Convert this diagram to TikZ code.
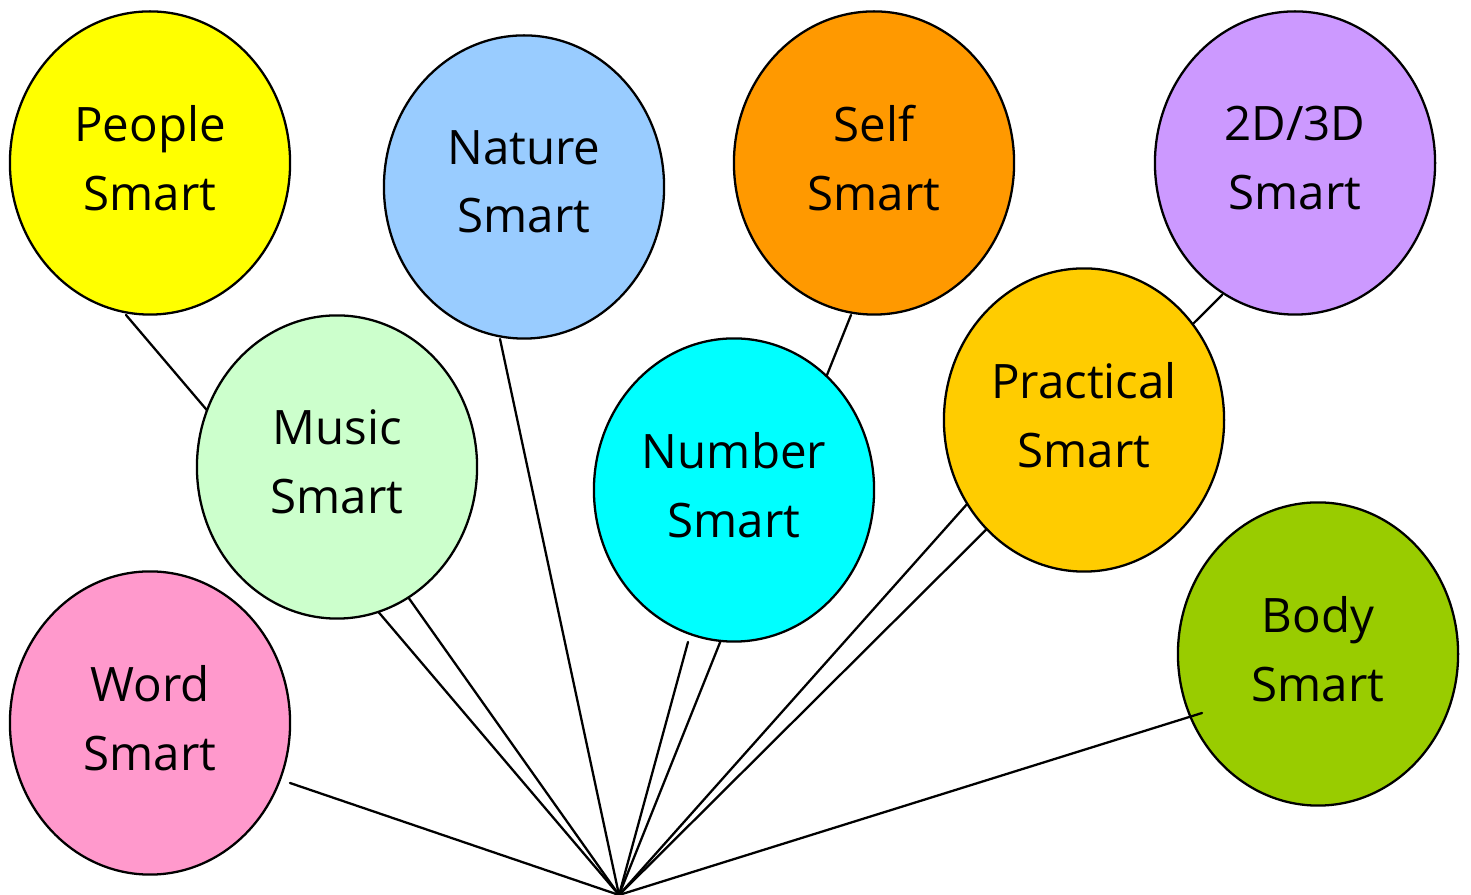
\documentclass[tikz,border=0pt]{standalone}
\usepackage{fontspec}
\setmainfont{Open Sans}
\usetikzlibrary{shapes.geometric, positioning}

\definecolor{sunny}{HTML}{FFFF00}
\definecolor{sky}{HTML}{99CCFF}
\definecolor{tangerine}{HTML}{FF9900}
\definecolor{lilac}{HTML}{CC99FF}
\definecolor{mint}{HTML}{CCFFCC}
\definecolor{aqua}{HTML}{00FFFF}
\definecolor{amber}{HTML}{FFCC00}
\definecolor{rose}{HTML}{FF99CC}
\definecolor{lime}{HTML}{99CC00}

\begin{document}
\begin{tikzpicture}[x=0.01cm, y=0.01cm]
	\tikzset{
	balloon/.style={ellipse, draw, line width=0.65pt, minimum width=2.8cm, minimum height=3.03cm, inner sep=0pt, outer sep=0pt, align=center, text depth=3pt, font=\fontsize{13.5}{19.5}\selectfont}, % one balloon, text inside
	string/.style={line width=0.65pt, line cap=round} % the string of a balloon
	}
	\useasboundingbox (0,0) rectangle (1471,895);

	% where each string is tied, and the hand that holds them all
	\coordinate (hand) at (619,0);
	\coordinate (people tie) at (126,580);
	\coordinate (nature tie) at (500,556);
	\coordinate (self tie) at (851,580);
	\coordinate (shape tie) at (1222,600);
	\coordinate (music tie) at (408,298);
	\coordinate (number tie) at (688,253);
	\coordinate (practical tie) at (968,392);
	\coordinate (word tie) at (290,112);
	\coordinate (body tie) at (1202,182);

	% strings go first, so the balloons hide them
	\foreach \b in {people, nature, self, shape, music, number, practical, word}
		\draw[string] (\b\space tie) -- (hand);

	\node[balloon, fill=sunny] (people) at (150,732) {People\\Smart};
	\node[balloon, fill=sky] (nature) at (524,708) {Nature\\Smart};
	\node[balloon, fill=tangerine] (self) at (874,732) {Self\\Smart};
	\node[balloon, fill=lilac] (shape) at (1295,732) {2D/3D\\Smart};
	\node[balloon, fill=mint] (music) at (337,428) {Music\\Smart};
	\node[balloon, fill=aqua] (number) at (734,405) {Number\\Smart};
	\node[balloon, fill=amber] (practical) at (1084,475) {Practical\\Smart};
	\node[balloon, fill=rose] (word) at (150,172) {Word\\Smart};
	\node[balloon, fill=lime] (body) at (1318,241) {Body\\Smart};

	% this one lies over its balloon
	\draw[string] (body tie) -- (hand);
\end{tikzpicture}
\end{document}
